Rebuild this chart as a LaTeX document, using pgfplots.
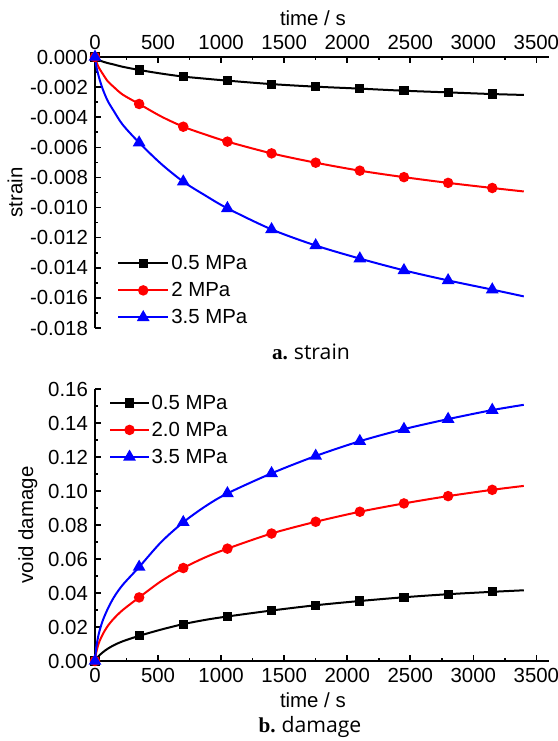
\documentclass[border=0pt]{standalone}
\usepackage{pgfplots}
\pgfplotsset{compat=1.18}
\usepackage{fontspec}
\setmainfont{Liberation Sans}
\newfontfamily\capfont{Open Sans}
\newfontfamily\capbold{Liberation Serif}
\definecolor{myred}{RGB}{255,0,0}
\definecolor{myblue}{RGB}{0,0,255}
\newcommand{\tf}{\fontsize{10.2}{12}\selectfont}
\pgfplotsset{
  common/.style={
    scale only axis, width=227pt,
    xmin=0, xmax=3600,
    xtick={0,500,1000,1500,2000,2500,3000,3500},
    minor x tick num=1, minor y tick num=1,
    tick align=inside,
    major tick length=3pt, minor tick length=1.7pt,
    axis line style={line width=0.9pt, black},
    every tick/.style={line width=0.8pt, black},
    /pgf/number format/assume math mode=true,
    /pgf/number format/1000 sep={},
    tick label style={font=\tf},
    label style={font=\tf},
    scaled y ticks=false, scaled x ticks=false,
    legend cell align=left,
    every axis plot/.append style={line width=1pt, smooth, mark indices={1,8,10,12,13,14,15,16,17,18}},
    legend style={draw=none, fill=none, inner sep=0pt, font=\tf,
      nodes={inner sep=0pt, text height=10pt, text depth=3.5pt},
      row sep=0pt,
      /tikz/every odd column/.append style={column sep=1pt}},
  },
  blk/.style={black, mark=square*, mark size=1.8pt, mark options={solid}},
  rd/.style={myred, mark=*, mark size=2.1pt, mark options={solid, fill=myred}},
  bl/.style={myblue, mark=triangle*, mark size=2.7pt, mark options={solid, fill=myblue}},
}
\begin{document}
\begin{tikzpicture}
\path[use as bounding box] (0,0) rectangle (279pt,-370.5pt);
% ---------------- top: strain
\begin{axis}[common,
  at={(47.5pt,-28.5pt)}, anchor=north west,
  height=135.5pt,
  ymin=-0.018, ymax=0,
  axis x line*=top, axis y line*=left,
  ytick={0,-0.002,-0.004,-0.006,-0.008,-0.010,-0.012,-0.014,-0.016,-0.018},
  yticklabel style={/pgf/number format/.cd, fixed, fixed zerofill, precision=3},
  xlabel={time / s}, ylabel={strain},
  xlabel style={at={(axis description cs:0.48,1.144)}, anchor=center},
  ylabel style={at={(axis description cs:-0.176,0.5)}, anchor=center},
  legend style={at={(axis description cs:0.048,0.2897)}, anchor=north west},
  legend image code/.code={\draw[mark indices={2}] plot coordinates {(0cm,0cm) (0.44cm,0cm) (0.88cm,0cm)};},
]
\addplot[blk] coordinates {
(0,0) (10,-0.0001) (30,-0.0002) (60,-0.0003) (100,-0.0004) (150,-0.0005) (220,-0.00065)
(350,-0.00086) (525,-0.00110) (700,-0.0013) (875,-0.00144) (1050,-0.00157) (1400,-0.0018)
(1750,-0.00197) (2100,-0.0021) (2450,-0.00224) (2800,-0.00235) (3150,-0.00246) (3400,-0.00252)};
\addlegendentry{0.5 MPa}
\addplot[rd] coordinates {
(0,0) (10,-0.0003) (30,-0.0007) (60,-0.0011) (100,-0.0016) (150,-0.0020) (220,-0.0025)
(350,-0.00312) (525,-0.00395) (700,-0.00463) (875,-0.00515) (1050,-0.00562) (1400,-0.0064)
(1750,-0.00702) (2100,-0.00755) (2450,-0.00798) (2800,-0.00836) (3150,-0.00870) (3400,-0.00893)};
\addlegendentry{2 MPa}
\addplot[bl] coordinates {
(0,0) (10,-0.0006) (30,-0.0013) (60,-0.0021) (100,-0.0029) (150,-0.0036) (220,-0.0045)
(350,-0.00569) (525,-0.0071) (700,-0.00828) (875,-0.0092) (1050,-0.01005) (1400,-0.01145)
(1750,-0.01252) (2100,-0.01339) (2450,-0.01417) (2800,-0.01484) (3150,-0.01545) (3400,-0.01590)};
\addlegendentry{3.5 MPa}
\end{axis}
\node[font=\fontsize{10.6}{12}\selectfont] at (155.5pt,-176pt) {{\capbold\bfseries a.}\ {\capfont strain}};
% ---------------- bottom: damage
\begin{axis}[common,
  at={(47.5pt,-330.5pt)}, anchor=south west,
  height=136pt,
  ymin=0, ymax=0.16,
  axis x line*=bottom, axis y line*=left,
  ytick={0,0.02,0.04,0.06,0.08,0.10,0.12,0.14,0.16},
  yticklabel style={/pgf/number format/.cd, fixed, fixed zerofill, precision=2},
  xlabel={time / s}, ylabel={void damage},
  xlabel style={at={(axis description cs:0.48,-0.143)}, anchor=center},
  ylabel style={at={(axis description cs:-0.148,0.5)}, anchor=center},
  legend style={at={(axis description cs:0.031,1.0)}, anchor=north west},
  legend image code/.code={\draw[mark indices={2}] plot coordinates {(0cm,0cm) (0.335cm,0cm) (0.67cm,0cm)};},
]
\addplot[blk] coordinates {
(0,0) (10,0.0012) (30,0.0030) (60,0.0050) (100,0.0072) (150,0.0093) (220,0.0116)
(350,0.0148) (525,0.0185) (700,0.0217) (875,0.0242) (1050,0.0262) (1400,0.0297)
(1750,0.0328) (2100,0.0353) (2450,0.0375) (2800,0.0393) (3150,0.0407) (3400,0.0416)};
\addlegendentry{0.5 MPa}
\addplot[rd] coordinates {
(0,0) (10,0.0050) (30,0.0105) (60,0.0155) (100,0.0205) (150,0.0250) (220,0.0300)
(350,0.0374) (525,0.0470) (700,0.0547) (875,0.0610) (1050,0.0661) (1400,0.0750)
(1750,0.0819) (2100,0.0878) (2450,0.0927) (2800,0.0970) (3150,0.1007) (3400,0.1030)};
\addlegendentry{2.0 MPa}
\addplot[bl] coordinates {
(0,0) (10,0.0080) (30,0.0160) (60,0.0235) (100,0.0305) (150,0.0375) (220,0.0448)
(350,0.0553) (525,0.0700) (700,0.0816) (875,0.0910) (1050,0.0986) (1400,0.1104)
(1750,0.1206) (2100,0.1293) (2450,0.1364) (2800,0.1423) (3150,0.1476) (3400,0.1507)};
\addlegendentry{3.5 MPa}
\end{axis}
\node[font=\fontsize{10.6}{12}\selectfont] at (155pt,-363.5pt) {{\capbold\bfseries b.}\ {\capfont damage}};
\end{tikzpicture}
\end{document}
